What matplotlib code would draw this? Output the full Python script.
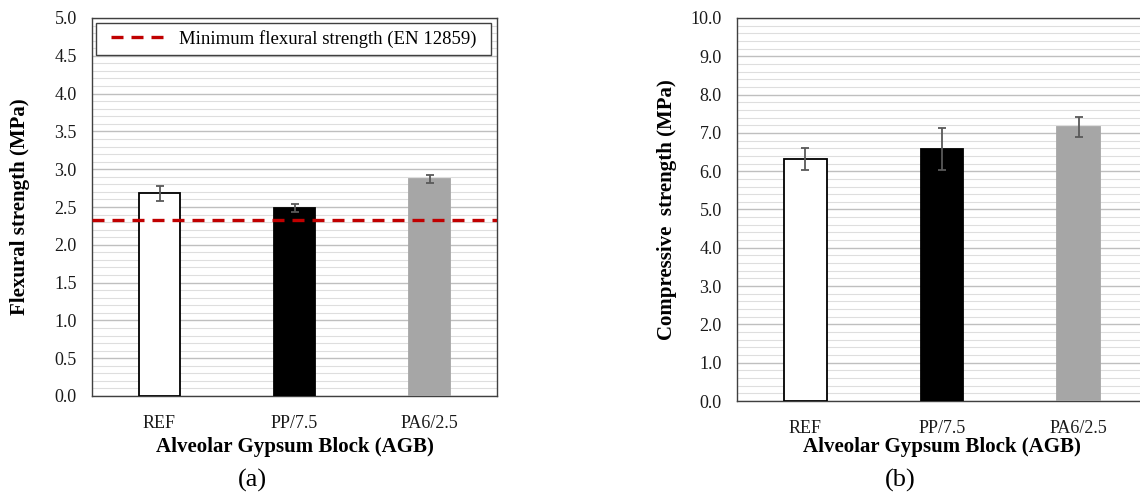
import numpy as np
import matplotlib
matplotlib.use("Agg")
from matplotlib import pyplot as plt
from matplotlib.ticker import MultipleLocator
from matplotlib.legend_handler import HandlerLine2D

plt.rcParams['font.family'] = ['Liberation Serif', 'DejaVu Serif']

categories = ["REF", "PP/7.5", "PA6/2.5"]
bar_colors = ["white", "black", "#a6a6a6"]

flexural = [2.68, 2.49, 2.87]
flexural_err = [0.10, 0.05, 0.05]
flexural_min = 2.33  # EN 12859

compressive = [6.31, 6.58, 7.15]
compressive_err = [0.29, 0.56, 0.27]

W, H = 1140, 493
fig = plt.figure(figsize=(W / 100, H / 100), dpi=100)


def px_axes(left, top, right, bottom):
    return fig.add_axes([left / W, 1 - bottom / H, (right - left) / W, (bottom - top) / H])


def draw_bars(ax, values, errs, ymax, major, minor, ylabel, xlabel, tag, box):
    left, top, right, bottom, ylab_x, tag_x = box
    x = np.arange(len(categories))
    ax.bar(x, values, width=0.31, color=bar_colors, edgecolor=["black", "black", "#a6a6a6"],
           linewidth=1.3, zorder=3)
    ax.errorbar(x, values, yerr=errs, fmt="none", ecolor="#595959", elinewidth=1.3,
                capsize=3, capthick=1.3, zorder=4)
    ax.set_xlim(-0.5, len(categories) - 0.5)
    ax.set_ylim(0, ymax)
    ticks = np.arange(0, ymax + major / 2, major)
    ax.yaxis.set_minor_locator(MultipleLocator(minor))
    ax.set_yticks(ticks)
    ax.set_yticklabels(["%.1f" % v for v in ticks])
    ax.set_xticks(x)
    ax.set_xticklabels(categories)
    ax.grid(which="major", axis="y", color="#bfbfbf", linewidth=1.0, zorder=0)
    ax.grid(which="minor", axis="y", color="#dedede", linewidth=0.8, zorder=0)
    ax.set_axisbelow(True)
    ax.tick_params(which="both", length=0, labelsize=13, colors="#1a1a1a")
    ax.tick_params(axis="y", pad=11)
    ax.tick_params(axis="x", pad=14)
    for s in ax.spines.values():
        s.set_color("#404040")
        s.set_linewidth(1.0)
    w = right - left
    h = bottom - top
    ax.set_ylabel(ylabel, fontsize=15, fontweight="bold", va="center")
    ax.yaxis.set_label_coords((ylab_x - left) / w, 0.5)
    ax.set_xlabel(xlabel, fontsize=15, fontweight="bold", va="center")
    ax.xaxis.set_label_coords(0.5, (bottom - 447) / h)
    fig.text(tag_x / W, 1 - 480 / H, tag, ha="center", va="center", fontsize=19)


# (a) flexural strength
box1 = (92, 18, 497, 396, 20, 252)
ax1 = px_axes(*box1[:4])
draw_bars(ax1, flexural, flexural_err, 5.0, 0.5, 0.1,
          "Flexural strength (MPa)", "Alveolar Gypsum Block (AGB)", "(a)", box1)
min_line = ax1.axhline(flexural_min, color="#c00000", linewidth=2.4, dashes=(3.6, 2.4),
                       zorder=5, label="Minimum flexural strength (EN 12859)")
leg = ax1.legend(loc="center", bbox_to_anchor=(4 / 405, 1 - 37 / 378, 395 / 405, 32 / 378),
                 mode="expand", fancybox=False, edgecolor="#404040", framealpha=1,
                 fontsize=13.5, handlelength=3.45, borderpad=0.35, borderaxespad=0,
                 handletextpad=0.65, handler_map={min_line: HandlerLine2D(xpad=0.45)})
leg.get_frame().set_linewidth(1.0)

# (b) compressive strength
box2 = (737, 18, 1147, 401, 667, 900)
ax2 = px_axes(*box2[:4])
draw_bars(ax2, compressive, compressive_err, 10.0, 1.0, 0.2,
          "Compressive  strength (MPa)", "Alveolar Gypsum Block (AGB)", "(b)", box2)

fig.savefig("out.png", dpi=100)
